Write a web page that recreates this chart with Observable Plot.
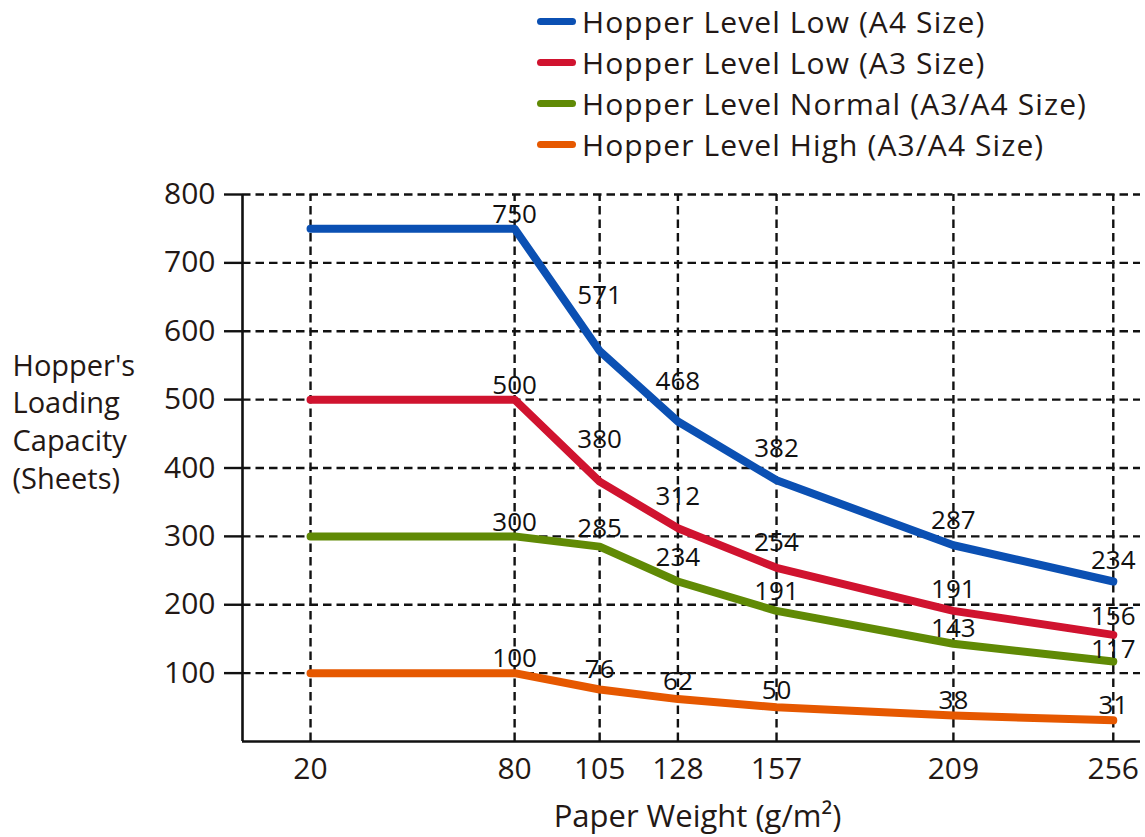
<!DOCTYPE html>
<html>
<head>
<meta charset="utf-8">
<script src="https://cdn.jsdelivr.net/npm/d3@7"></script>
<script src="https://cdn.jsdelivr.net/npm/@observablehq/plot@0.6"></script>
<style>
  html, body { margin: 0; padding: 0; background: #fff; }
  body { width: 1145px; height: 837px; overflow: hidden; font-family: "Open Sans", sans-serif; color: #231815; }
  #legend { height: 170px; box-sizing: border-box; padding-top: 1px; padding-left: 537px; }
  .row { height: 41px; display: flex; align-items: center; font-size: 30px; letter-spacing: 1.1px; white-space: nowrap; }
  .sw { display: inline-block; width: 39px; height: 7px; border-radius: 4px; margin-right: 6px; }
  #chart svg { display: block; }
</style>
</head>
<body>
<div id="legend"></div>
<div id="chart"></div>
<script>
// ---- data ----
const weights = [20, 80, 105, 128, 157, 209, 256];
const seriesNames = [
  "Hopper Level Low (A4 Size)",
  "Hopper Level Low (A3 Size)",
  "Hopper Level Normal (A3/A4 Size)",
  "Hopper Level High (A3/A4 Size)"
];
const lowA4 = [750, 750, 571, 468, 382, 287, 234];
const lowA3 = [500, 500, 380, 312, 254, 191, 156];
const normalA3A4 = [300, 300, 285, 234, 191, 143, 117];
const highA3A4 = [100, 100, 76, 62, 50, 38, 31];
const yTicks = [100, 200, 300, 400, 500, 600, 700, 800];
const colors = ["#0b50b3", "#d0132f", "#608a05", "#e65800"];

const seriesValues = [lowA4, lowA3, normalA3A4, highA3A4];

// ---- legend ----
const legend = document.getElementById("legend");
seriesNames.forEach((name, i) => {
  const row = document.createElement("div");
  row.className = "row";
  const sw = document.createElement("span");
  sw.className = "sw";
  sw.style.background = colors[i];
  const t = document.createElement("span");
  t.textContent = name;
  row.appendChild(sw);
  row.appendChild(t);
  legend.appendChild(row);
});

// ---- layout ----
const W = 1145, H = 667, mT = 24, mB = 96, mL = 242, mR = 5;
const yMax = 800, xMax = 264;
const pxPerUnit = (H - mT - mB) / yMax;

// ---- table (label lift: above the point, more on steep segments, but kept below the series above) ----
const table = seriesNames.flatMap((name, s) =>
  weights.map((w, i) => {
    const v = seriesValues[s][i];
    const slope = i > 0 ? (seriesValues[s][i - 1] - v) / (w - weights[i - 1]) : 0;
    const above = s > 0 ? (seriesValues[s - 1][i] - v) * pxPerUnit : Infinity;
    const lift = Math.min(14 + 5.8 * slope, above * 0.45);
    return { series: name, weight: w, value: v, idx: i, lift };
  })
);

const gridStyle = { stroke: "#111", strokeWidth: 2.4, strokeDasharray: "8.5,5" };

const chart = Plot.plot({
  width: W,
  height: H,
  marginTop: mT,
  marginBottom: mB,
  marginLeft: mL,
  marginRight: mR,
  x: { domain: [0, xMax] },
  y: { domain: [0, yMax] },
  color: { domain: seriesNames, range: colors },
  style: { fontFamily: "'Open Sans', sans-serif", fontSize: "30px", color: "#231815", background: "#fff", overflow: "visible" },
  marks: [
    Plot.ruleY(yTicks, { x1: 0, x2: xMax, ...gridStyle }),
    Plot.ruleX(weights, { y1: 0, y2: yMax, ...gridStyle }),
    Plot.axisY(yTicks, { tickSize: 18, tickPadding: 9, stroke: "#111", strokeWidth: 2.4, label: null, fontSize: 30 }),
    Plot.axisX(weights, { tickSize: 0, tickPadding: 16, label: null, fontSize: 30 }),
    Plot.ruleX([0], { y1: 0, y2: yMax, stroke: "#111", strokeWidth: 2.6 }),
    Plot.ruleY([0], { x1: 0, x2: xMax, stroke: "#111", strokeWidth: 2.6 }),
    Plot.line(table, {
      x: "weight", y: "value", z: "series", stroke: "series",
      strokeWidth: 8, strokeLinecap: "round", strokeLinejoin: "round"
    }),
    Plot.text(table.filter(d => d.idx > 0), {
      x: "weight",
      y: d => d.value + d.lift / pxPerUnit,
      text: d => String(d.value),
      fill: "#111",
      fontSize: 26
    }),
    Plot.text(["Hopper's\nLoading\nCapacity\n(Sheets)"], {
      frameAnchor: "left", dx: -230, dy: -48, textAnchor: "start",
      lineHeight: 1.3, fontSize: 29, fill: "#231815"
    }),
    Plot.text(["Paper Weight (g/m²)"], {
      frameAnchor: "bottom", dx: 6, dy: 85, fontSize: 31, fill: "#231815"
    })
  ]
});
document.getElementById("chart").appendChild(chart);
</script>
</body>
</html>
